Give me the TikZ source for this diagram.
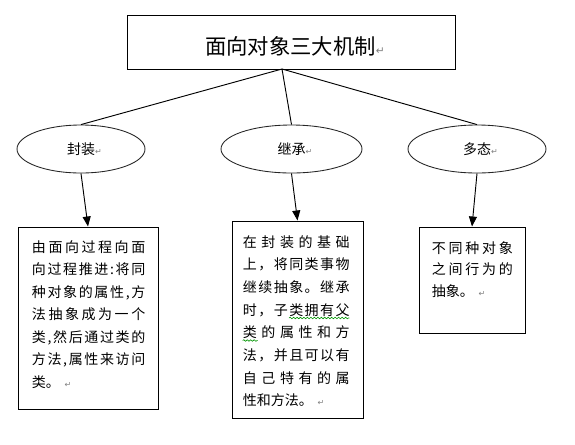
\documentclass[tikz,border=0pt]{standalone}
\usepackage{fontspec}
\setmainfont{Noto Sans CJK SC}
\newfontfamily\dv{DejaVu Sans}
\usetikzlibrary{arrows.meta,shapes.geometric,decorations.pathmorphing}
\definecolor{pmgray}{RGB}{128,128,128}
\definecolor{sqgreen}{RGB}{0,150,0}
\newcommand\pmark[1][6pt]{{\dv\fontsize{#1}{#1}\selectfont\color{pmgray}↵}}
\def\sprloop#1{#1\sprnext}
\def\sprnext#1{\ifx\relax#1\else\hfill#1\expandafter\sprnext\fi}
\newcommand\spr[1]{\makebox[\linewidth][s]{\sprloop#1\relax}}
\tikzset{
  boxline/.style={draw=black, line width=0.75pt},
  titlebox/.style={boxline, rectangle, minimum width=246pt, minimum height=40.5pt, inner sep=0pt},
  oval/.style={draw=black!85, line width=0.65pt, ellipse, minimum height=36pt, inner sep=0pt, font=\fontsize{10.5pt}{10.5pt}\selectfont},
  textbox/.style={boxline, rectangle, inner sep=0pt},
  bodytext/.style={anchor=base west, inner sep=0pt, align=left, font=\fontsize{10.5pt}{16.9pt}\selectfont},
  conn/.style={draw=black, line width=0.7pt},
  arr/.style={draw=black, line width=0.7pt, -{Triangle[length=7.5pt,width=6pt]}},
  squig/.style={draw=sqgreen, line width=0.45pt, decorate, decoration={snake, amplitude=0.6pt, segment length=2.6pt}}
}
\begin{document}
\begin{tikzpicture}[x=0.75pt, y=-0.75pt]
\fill[white] (0,0) rectangle (575,444);
\useasboundingbox (0,0) rectangle (575,444);
% title
\node[titlebox] (t) at (291,42) {};
\node[inner sep=0pt, font=\fontsize{16pt}{16pt}\selectfont] (tt) at (290.5,46) {面向对象三大机制\rlap{\pmark[8pt]}};
\coordinate (tj) at (282,69);
% ellipses
\node[oval, minimum width=96pt] (e1) at (81,149) {封装\rlap{\pmark}};
\node[oval, minimum width=105.75pt] (e2) at (291.5,149) {继承\rlap{\pmark}};
\node[oval, minimum width=103.5pt] (e3) at (477,149) {多态\rlap{\pmark}};
% boxes
\node[textbox, minimum width=105pt, minimum height=136.5pt] (b1) at (88,318) {};
\node[textbox, minimum width=98.25pt, minimum height=147.75pt] (b2) at (297.5,319.5) {};
\node[textbox, minimum width=79.5pt, minimum height=79.5pt] (b3) at (472,280) {};
% connectors
\draw[conn] (tj) -- (e1.north);
\draw[conn] (tj) -- (e2.north);
\draw[conn] (tj) -- (e3.north);
\draw[arr] (e1.south) -- (b1.north);
\draw[arr] (e2.south) -- (b2.north);
\draw[arr] (e3.south) -- (b3.north);
% texts
\node[bodytext, text width=85pt] (t1) at (31.7,252) {%
\spr{由面向过程向面}\\
\spr{向过程推进:将同}\\
\spr{种对象的属性,方}\\
\spr{法抽象成为一个}\\
\spr{类,然后通过类的}\\
\spr{方法,属性来访问}\\
类。\ \pmark};
\node[bodytext, text width=80pt, font=\fontsize{10.5pt}{17pt}\selectfont] (t2) at (242.7,247) {%
\spr{在封装的基础}\\
\spr{上，将同类事物}\\
\spr{继续抽象。继承}\\
\spr{时，子类拥有父}\\
\spr{类的属性和方}\\
\spr{法，并且可以有}\\
\spr{自己特有的属}\\
性和方法。\ \pmark};
\node[bodytext, text width=60.75pt, font=\fontsize{10.5pt}{16pt}\selectfont] (t3) at (431.7,253.6) {%
\spr{不同种对象}\\
\spr{之间行为的}\\
抽象。\ \pmark};
% grammar squiggles
\draw[squig] (289,318) -- (349.3,318);
\draw[squig] (242.7,340.5) -- (257.5,340.5);
\end{tikzpicture}
\end{document}
